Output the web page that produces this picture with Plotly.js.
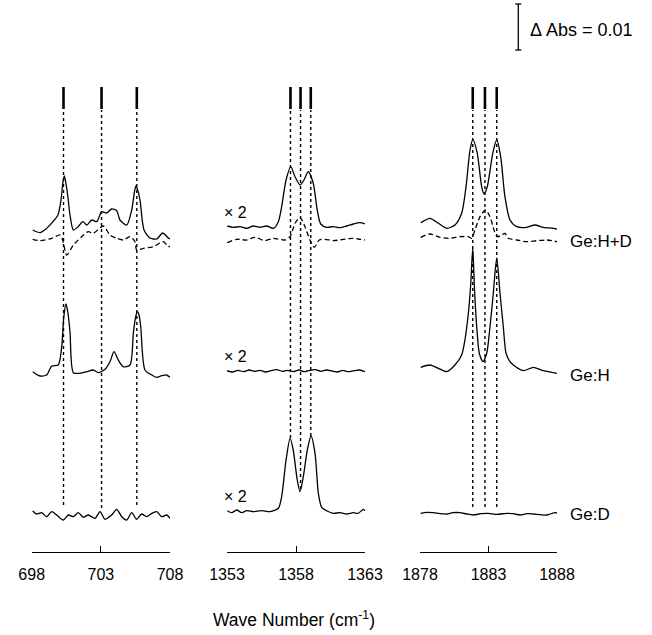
<!DOCTYPE html>
<html>
<head>
<meta charset="utf-8">
<script src="https://cdn.plot.ly/plotly-3.0.1.min.js"></script>
<style>html,body{margin:0;padding:0;background:#fff;}#chart{width:652px;height:635px;}</style>
</head>
<body>
<div id="chart"></div>
<script>
// ---- Tick labels / ranges ----
const ticks1 = [698, 703, 708];
const ticks2 = [1353, 1358, 1363];
const ticks3 = [1878, 1883, 1888];

// ---- Marked band positions (cm^-1) ----
const marks1 = [700.3, 703.05, 705.6];
const marks2 = [1357.6, 1358.33, 1359.07];
const marks3 = [1881.85, 1882.74, 1883.6];
// lower ends of the dotted guide lines (same offset units as spectra)
const markEnd1 = [130, 127, 130];
const markEnd2 = [197, 146, 199];
const markEnd3 = [128, 128, 128];

// ---- Spectra (y: absorbance with vertical offsets, units of 0.01/46 Abs) ----
// Panel 1 (698-708)
const p1_HD_x = [698.07,698.6,699.03,699.54,699.9,700.12,700.26,700.36,700.46,700.6,700.77,701.01,701.35,701.71,701.98,702.34,702.7,703.06,703.42,703.78,704.15,704.38,704.87,705.23,705.44,705.54,705.64,705.83,706.12,706.55,707.04,707.47,707.88,708.0];
const p1_HD_y = [405,402.3,406,413.3,420,435,453,459,453,440,420,405,408.3,413.3,410,415,413.3,423.3,422,426,424.3,415,410,425,444,449,446,435,405,397,396,402,397,396];
const p1_HDd_x = [698.07,698.6,699.45,700.05,700.24,700.53,701.01,701.62,702.09,702.45,703.18,703.66,704.15,704.62,705.11,705.47,705.59,706.07,706.79,707.52,707.88,708.0];
const p1_HDd_y = [395.7,394.3,396.7,400,395,380,390,398.3,403.3,401.7,409,400,396.7,395,398.3,393.3,385,386.7,388.3,393.3,388.3,389];
const p1_H_x = [698.07,698.6,699.08,699.45,699.92,700.17,700.32,700.48,700.62,700.77,701.01,701.49,701.98,702.45,702.82,703.3,703.66,703.95,704.26,704.62,705.11,705.35,705.5,705.64,705.76,705.88,706.19,706.68,707.04,707.4,707.76,708.0];
const p1_H_y = [263.3,259,260,269,270,288.3,318,331,322,303,262.3,261.7,263.3,265,262.3,265.7,273.3,283.3,275,268.3,270,302,317,323.3,320,309,265,260,257.7,259.3,260,257.7];
const p1_D_x = [698.07,698.36,698.72,699.08,699.45,699.81,700.29,700.65,701.01,701.37,701.73,702.09,702.58,702.94,703.3,703.78,704.15,704.51,704.87,705.23,705.59,705.95,706.32,706.68,707.04,707.4,707.76,708.0];
const p1_D_y = [124,121,122.3,118.3,123.3,120,115,120,118.3,122.3,117.7,120,116.7,123.3,115.7,120,125.7,118.3,115,122.3,115.7,121,118.3,121.7,123.3,118.3,120,116.7];

// Panel 2 (1353-1363)
const p2_HD_x = [1353.02,1353.46,1353.94,1354.43,1354.91,1355.39,1355.88,1356.36,1356.72,1356.96,1357.28,1357.62,1357.93,1358.29,1358.58,1358.89,1359.25,1359.54,1359.79,1360.22,1360.7,1361.19,1361.67,1362.15,1362.64,1363.0];
const p2_HD_y = [409,407.7,408.3,406.7,409,407.7,409,406.7,413.3,428.3,455,468.3,458.3,450,455,463.3,451.7,425,411,407.7,408.3,407.3,409,411,412.3,411];
const p2_HDd_x = [1353.02,1353.7,1354.43,1355.03,1355.75,1356.36,1357.2,1357.57,1357.93,1358.29,1358.65,1359.01,1359.33,1359.69,1360.1,1360.7,1361.43,1362.15,1362.64,1363.0];
const p2_HDd_y = [392.3,395.7,395,397.7,394.3,396.7,395,398.3,411.7,417.7,408.3,395,387.7,395,395.7,394.3,395.7,396.7,395.7,395];
const p2_H_x = [1353.0,1353.4,1353.8,1354.2,1354.6,1355.0,1355.4,1355.8,1356.2,1356.6,1357.0,1357.4,1357.8,1358.2,1358.6,1359.0,1359.4,1359.8,1360.2,1360.6,1361.0,1361.4,1361.8,1362.2,1362.6,1363.0];
const p2_H_y = [264.3,263,264.7,263.3,265,263.7,264.7,263,264.3,265.3,263.7,264.7,263.3,265,263.3,264.7,265.3,263.7,265,264,263,264.7,263.3,264.3,265,263.3];
const p2_D_x = [1353.02,1353.34,1353.7,1354.07,1354.43,1354.91,1355.51,1356.12,1356.72,1356.96,1357.28,1357.57,1357.8,1358.09,1358.29,1358.53,1358.82,1359.09,1359.38,1359.62,1359.86,1360.22,1360.7,1361.19,1361.67,1362.15,1362.51,1362.88,1363.0];
const p2_D_y = [124.3,122.3,125,122.3,124.3,123.3,124.3,123.3,126.7,138.3,175,196.7,185,155,143.3,158.3,185,199,181.7,141.7,127.7,124.3,121.7,122.3,121,122.3,121.7,125.7,124.3];

// Panel 3 (1878-1888)
const p3_HD_x = [1878.05,1878.73,1879.34,1879.95,1880.55,1881.04,1881.36,1881.65,1881.86,1882.18,1882.5,1882.67,1882.91,1883.31,1883.6,1883.89,1884.2,1884.57,1885.06,1885.79,1886.39,1887.0,1887.73,1888.0];
const p3_HD_y = [412.3,416.7,411.7,406.7,410,421.7,448.3,485,495.7,481.7,448.3,441,448.3,481.7,495,478.3,438.3,415,408.3,407.7,410,407.7,406.7,406];
const p3_HDd_x = [1878.05,1878.73,1879.46,1880.19,1880.92,1881.53,1881.77,1882.01,1882.38,1882.78,1883.11,1883.4,1883.64,1883.96,1884.2,1884.45,1885.06,1885.79,1886.52,1887.25,1888.0];
const p3_HDd_y = [397.7,401,397.7,396.7,398.3,398.3,396.7,405,418.3,425,418.3,405,398.3,400,401.7,396.7,395,393.3,394.3,395,393.3];
const p3_H_x = [1878.05,1878.73,1879.34,1879.95,1880.55,1881.04,1881.28,1881.53,1881.7,1881.85,1881.98,1882.14,1882.33,1882.6,1882.87,1883.11,1883.35,1883.6,1883.84,1884.08,1884.28,1884.57,1884.81,1885.54,1886.27,1887.0,1887.73,1888.0];
const p3_H_y = [267.7,270,266.7,263.3,270,280,295,321.7,350,387,345,308.3,281.7,273.3,281.7,308.3,341.7,377,341.7,308.3,281.7,273.3,270,264.3,267.7,264.3,262.3,261.7];
const p3_D_x = [1878.05,1878.5,1878.97,1879.45,1879.95,1880.4,1880.92,1881.4,1881.89,1882.45,1882.99,1883.6,1884.33,1884.8,1885.3,1885.8,1886.27,1886.8,1887.25,1887.85,1888.0];
const p3_D_y = [121.7,122.7,122.3,121.3,121,122.3,122.3,121,120,121.3,121.7,120.7,121.7,121.3,120,121.3,121,120.3,120,122.3,122];

// ---- Text ----
const sampleLabels = ["Ge:H+D", "Ge:H", "Ge:D"];
const sampleLabelY = [394, 260, 121];
const factorLabel = "× 2";
const factorLabelY = [423, 279, 139];
const scaleText = "Δ Abs = 0.01";
const scaleLen = 46;        // 0.01 Abs in offset units
const xTitle = "Wave Number (cm<sup>-1</sup>)";

// ---- Build ----
const FONT = "Liberation Sans, Arial, Helvetica, sans-serif";
function tr(x, y, ax, dashed) {
  return {
    x: x, y: y, xaxis: ax, yaxis: 'y', type: 'scatter', mode: 'lines',
    line: {color: '#000', width: 1.3, shape: 'spline', smoothing: 0.7, dash: dashed ? '5px,3px' : 'solid'},
    hoverinfo: 'skip'
  };
}
const data = [
  tr(p1_HD_x, p1_HD_y, 'x', false), tr(p1_HDd_x, p1_HDd_y, 'x', true),
  tr(p1_H_x, p1_H_y, 'x', false), tr(p1_D_x, p1_D_y, 'x', false),
  tr(p2_HD_x, p2_HD_y, 'x2', false), tr(p2_HDd_x, p2_HDd_y, 'x2', true),
  tr(p2_H_x, p2_H_y, 'x2', false), tr(p2_D_x, p2_D_y, 'x2', false),
  tr(p3_HD_x, p3_HD_y, 'x3', false), tr(p3_HDd_x, p3_HDd_y, 'x3', true),
  tr(p3_H_x, p3_H_y, 'x3', false), tr(p3_D_x, p3_D_y, 'x3', false)
];

const W = 652, H = 635;
const axisPos = 1 - 551.7 / H;
function xax(dom, ticks) {
  return {
    domain: dom, range: [ticks[0], ticks[2]], anchor: 'free', position: axisPos,
    tickmode: 'array', tickvals: ticks, ticktext: ticks.map(String),
    ticks: 'inside', ticklen: 6, tickwidth: 1, tickcolor: '#000',
    showline: true, linecolor: '#000', linewidth: 1.3, showgrid: false, zeroline: false,
    tickfont: {family: FONT, size: 16, color: '#000'}, ticklabelstandoff: 8,
    fixedrange: true
  };
}

const shapes = [];
const markTop = 525, barTop = 548, barBot = 526;
[[marks1, markEnd1, 'x'], [marks2, markEnd2, 'x2'], [marks3, markEnd3, 'x3']].forEach(([m, e, ax]) => {
  m.forEach((v, i) => {
    shapes.push({type: 'line', xref: ax, yref: 'y', x0: v, x1: v, y0: e[i], y1: markTop,
      line: {color: '#000', width: 1.4, dash: 'dot'}});
    shapes.push({type: 'line', xref: ax, yref: 'y', x0: v, x1: v, y0: barBot, y1: barTop,
      line: {color: '#000', width: 2.6}});
  });
});
// scale bar
const sbx = 518.3 / W, sbTop = 631, sbBot = sbTop - scaleLen;
shapes.push({type: 'line', xref: 'paper', yref: 'y', x0: sbx, x1: sbx, y0: sbBot, y1: sbTop, line: {color: '#000', width: 1.3}});
shapes.push({type: 'line', xref: 'paper', yref: 'y', x0: sbx - 3 / W, x1: sbx + 3 / W, y0: sbTop, y1: sbTop, line: {color: '#000', width: 1.3}});
shapes.push({type: 'line', xref: 'paper', yref: 'y', x0: sbx - 3 / W, x1: sbx + 3 / W, y0: sbBot, y1: sbBot, line: {color: '#000', width: 1.3}});

const annotations = [];
sampleLabels.forEach((t, i) => annotations.push({
  text: t, xref: 'paper', yref: 'y', x: 568 / W, y: sampleLabelY[i], xanchor: 'left', yanchor: 'middle',
  showarrow: false, font: {family: FONT, size: 17, color: '#000'}
}));
factorLabelY.forEach(y => annotations.push({
  text: factorLabel, xref: 'x2', yref: 'y', x: 1353.65, y: y, xanchor: 'center', yanchor: 'middle',
  showarrow: false, font: {family: FONT, size: 16, color: '#000'}
}));
annotations.push({text: scaleText, xref: 'paper', yref: 'y', x: 528 / W, y: 605, xanchor: 'left', yanchor: 'middle',
  showarrow: false, font: {family: FONT, size: 18, color: '#000'}});
annotations.push({text: xTitle, xref: 'paper', yref: 'paper', x: 294 / W, y: 1 - 619 / H, xanchor: 'center', yanchor: 'middle',
  showarrow: false, font: {family: FONT, size: 17.5, color: '#000'}});

const layout = {
  width: W, height: H, margin: {l: 0, r: 0, t: 0, b: 0},
  paper_bgcolor: '#fff', plot_bgcolor: 'rgba(0,0,0,0)', showlegend: false,
  xaxis: xax([31.7 / W, 170 / W], ticks1),
  xaxis2: xax([227 / W, 365 / W], ticks2),
  xaxis3: xax([420 / W, 557 / W], ticks3),
  yaxis: {domain: [0, 1], range: [0, H], visible: false, fixedrange: true, anchor: 'x'},
  shapes: shapes, annotations: annotations
};
Plotly.newPlot('chart', data, layout, {staticPlot: true, displayModeBar: false});
</script>
</body>
</html>
